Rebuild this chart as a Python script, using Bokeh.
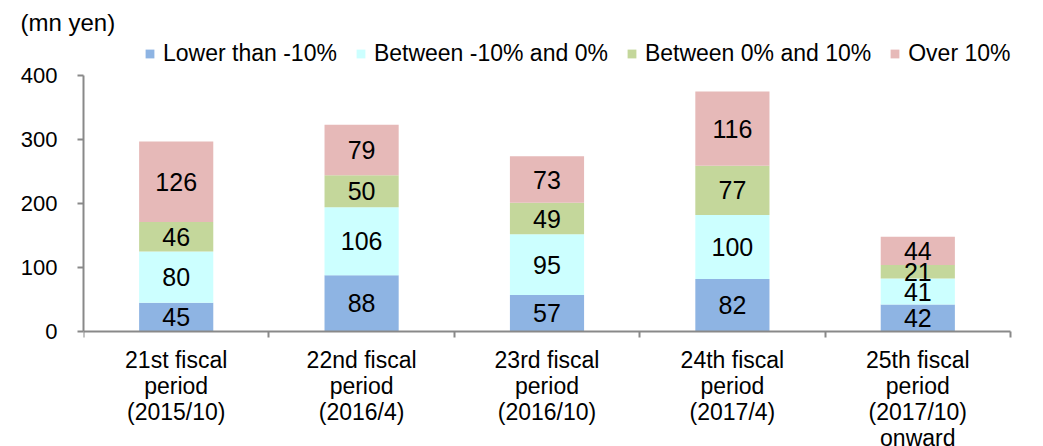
from bokeh.plotting import figure
from bokeh.models import (ColumnDataSource, Range1d, FixedTicker, Legend, LegendItem)
from bokeh.core.properties import value
from bokeh.embed import file_html
from bokeh.resources import INLINE

# ---- data ----
periods = ["21st fiscal\nperiod\n(2015/10)", "22nd fiscal\nperiod\n(2016/4)",
           "23rd fiscal\nperiod\n(2016/10)", "24th fiscal\nperiod\n(2017/4)",
           "25th fiscal\nperiod\n(2017/10)\nonward"]
series = ["Lower than -10%", "Between -10% and 0%", "Between 0% and 10%", "Over 10%"]
lower = [45, 88, 57, 82, 42]
between_neg = [80, 106, 95, 100, 41]
between_pos = [46, 50, 49, 77, 21]
over = [126, 79, 73, 116, 44]
y_ticks = [0, 100, 200, 300, 400]
unit_label = "(mn yen)"

colors = ["#8EB4E3", "#CCFFFF", "#C4D79B", "#E6B9B8"]
FONT = "Liberation Sans"
AXIS_COLOR = "#898989"

n = len(periods)
xs = [i + 0.5 for i in range(n)]
keys = ["s0", "s1", "s2", "s3"]
values = [lower, between_neg, between_pos, over]
data = {"x": xs}
for k, v in zip(keys, values):
    data[k] = v
src = ColumnDataSource(data)

# layout (pixels)
W, H = 1043, 446
LEFT, RIGHT, TOP, BOTTOM = 83, 5, 35, 0
AXIS_W = 927                    # pixel length of the x axis
AXIS_TOP, AXIS_BOTTOM = 75, 331 # pixel rows of the y axis ends
frame_w = W - LEFT - RIGHT

y_max = y_ticks[-1]
scale = (AXIS_BOTTOM - AXIS_TOP) / y_max
y_end = y_max + (AXIS_TOP - TOP) / scale            # headroom for the legend
y_start = -((H - BOTTOM) - AXIS_BOTTOM) / scale     # room below for category labels
x_end = n * frame_w / AXIS_W                        # room to the right for the legend

p = figure(width=W, height=H, output_backend="svg", toolbar_location=None,
           x_range=Range1d(0, x_end), y_range=Range1d(y_start, y_end),
           min_border_left=LEFT, min_border_right=RIGHT, min_border_top=TOP,
           min_border_bottom=BOTTOM)
p.outline_line_color = None
p.xgrid.visible = False
p.ygrid.visible = False

rends = p.vbar_stack(keys, x="x", width=0.4, color=colors, line_color=None, source=src)

# data labels centred in each segment
lx, ly, lt = [], [], []
base = [0] * n
for v in values:
    for i in range(n):
        lx.append(xs[i])
        ly.append(base[i] + v[i] / 2)
        lt.append(str(v[i]))
        base[i] += v[i]
lsrc = ColumnDataSource(dict(x=lx, y=ly, t=lt))
p.text(x="x", y="y", text="t", source=lsrc, text_align="center", text_baseline="middle",
       text_font=value(FONT), text_font_size="25px", text_color="black")

# y axis
ya = p.yaxis[0]
ya.ticker = FixedTicker(ticks=y_ticks)
ya.bounds = (0, y_max)
ya.axis_line_color = AXIS_COLOR
ya.axis_line_width = 2
ya.major_tick_line_color = AXIS_COLOR
ya.major_tick_line_width = 2
ya.major_tick_out = 6
ya.major_tick_in = 0
ya.minor_tick_line_color = None
ya.major_label_standoff = 20
ya.major_label_text_font = FONT
ya.major_label_text_font_size = "22px"
ya.major_label_text_color = "black"

# x axis at y = 0: labels at centres, tick marks at category boundaries
xa = p.xaxis[0]
xa.fixed_location = 0
xa.bounds = (0, n)
xa.ticker = FixedTicker(ticks=xs, minor_ticks=list(range(n + 1)))
xa.major_label_overrides = {x: lab for x, lab in zip(xs, periods)}
xa.axis_line_color = AXIS_COLOR
xa.axis_line_width = 2
xa.major_tick_line_color = None
xa.major_tick_out = 0
xa.major_tick_in = 0
xa.minor_tick_line_color = AXIS_COLOR
xa.minor_tick_line_width = 2
xa.minor_tick_out = 6
xa.minor_tick_in = 0
xa.major_label_standoff = 9
xa.major_label_text_font = FONT
xa.major_label_text_font_size = "23px"
xa.major_label_text_color = "black"
xa.major_label_text_line_height = 1.0

# unit label as title
p.title.text = unit_label
p.title.align = "left"
p.title.offset = -63
p.title.standoff = 0
p.title.text_font = FONT
p.title.text_font_size = "24px"
p.title.text_font_style = "normal"
p.title.text_color = "black"

legend = Legend(items=[LegendItem(label=s, renderers=[r]) for s, r in zip(series, rends)],
                location=(61, 264 + (H - BOTTOM - AXIS_BOTTOM)), orientation="horizontal",
                padding=0, margin=0,
                spacing=18, label_standoff=8, glyph_width=11, glyph_height=11,
                border_line_color=None, background_fill_alpha=0,
                label_text_font=FONT, label_text_font_size="23px", label_text_color="black")
p.add_layout(legend)

open("out.html", "w").write(file_html(p, INLINE))
